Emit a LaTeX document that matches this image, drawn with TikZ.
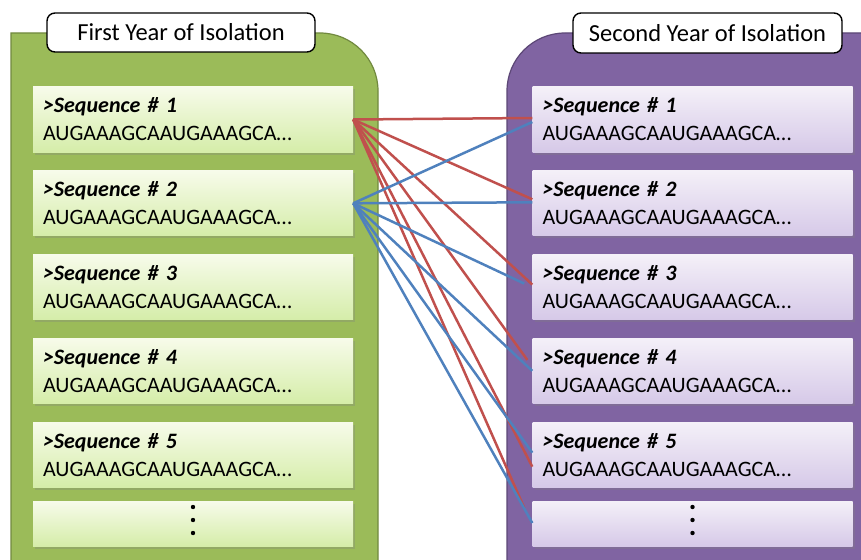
\documentclass[tikz,border=0pt]{standalone}
\usepackage{fontspec}
\setmainfont{Carlito}
\usetikzlibrary{shadows}

\definecolor{greenpanel}{HTML}{9BBB59}
\definecolor{greenedge}{HTML}{71893F}
\definecolor{greentop}{HTML}{F7FBEA}
\definecolor{greenbottom}{HTML}{D5EDA9}
\definecolor{purplepanel}{HTML}{8064A2}
\definecolor{purpleedge}{HTML}{5C4776}
\definecolor{purpletop}{HTML}{F4F0F8}
\definecolor{purplebottom}{HTML}{D6C9E8}
\definecolor{seqred}{HTML}{C0504D}
\definecolor{seqblue}{HTML}{4F81BD}

\tikzset{
	seqbox/.style={rectangle, minimum width=320pt, minimum height=65pt, text width=300pt,
		inner xsep=10pt, align=left, font=\fontsize{22}{28}\selectfont,
		drop shadow={shadow xshift=2pt, shadow yshift=-2.5pt, opacity=0.3}},
	greenbox/.style={seqbox, top color=greentop, bottom color=greenbottom},
	purplebox/.style={seqbox, top color=purpletop, bottom color=purplebottom},
	titlebox/.style={draw, line width=1.4pt, rounded corners=8pt, fill=white,
		minimum width=268pt, minimum height=39pt, font=\fontsize{24.5}{28}\selectfont},
	link/.style={line width=2.5pt}
}

\begin{document}
\begin{tikzpicture}[x=1pt, y=-1pt]
	\useasboundingbox (0,0) rectangle (861,559);
	\clip (0,0) rectangle (861,559);
	
	%panels
	\draw[greenedge, fill=greenpanel, line width=1.2pt] (11,600) -- (11,33) -- (320,33)
		arc[start angle=90, end angle=0, radius=58pt] -- (378,600) -- cycle;
	\draw[purpleedge, fill=purplepanel, line width=1.2pt] (507,600) -- (507,91)
		arc[start angle=180, end angle=90, radius=58pt] -- (880,33) -- (880,600) -- cycle;
	
	%titles
	\node[titlebox] (t1) at (181,32.5) {First Year of Isolation};
	\node[titlebox, minimum width=269pt, minimum height=40pt] (t2) at (707.5,33) {Second Year of Isolation};
	
	%sequences
	\foreach \i in {1,...,5}{
		\pgfmathsetmacro\yy{119.5+83.8*(\i-1)}
		\node[greenbox] (g\i) at (193,\yy) {{\bfseries\itshape >Sequence \# \i}\\AUGAAAGCAAUGAAAGCA…};
		\node[purplebox, minimum width=319pt] (p\i) at (692.5,\yy) {{\bfseries\itshape >Sequence \# \i}\\AUGAAAGCAAUGAAAGCA…};
	}
	\node[greenbox, minimum height=45pt] (g6) at (193,523.5) {};
	\node[purplebox, minimum width=319pt, minimum height=45pt] (p6) at (692.5,523.5) {};
	\foreach \b in {g6, p6}{
		\foreach \d in {16.5, 3.5, -9.5}
			\fill ([yshift=\d pt]\b.center) circle (2.2pt);
	}
	
	%links
	\foreach \i/\rx/\ry/\bx/\by in {1/0/1.5/0/-2.5, 2/0/4/0/1, 3/0/2.5/-8/3.5, 4/-5/11/0/0, 5/0/-12/0/2, 6/-8/15.5/0/0.5}{
		\draw[link, seqred] (g1.east) -- ([shift={(\rx pt,\ry pt)}]p\i.west);
	}
	\foreach \i/\rx/\ry/\bx/\by in {1/0/1.5/0/-2.5, 2/0/4/0/1, 3/0/2.5/-8/3.5, 4/-5/11/0/0, 5/0/-12/0/2, 6/-8/15.5/0/0.5}{
		\draw[link, seqblue] (g2.east) -- ([shift={(\bx pt,\by pt)}]p\i.west);
	}
\end{tikzpicture}
\end{document}
